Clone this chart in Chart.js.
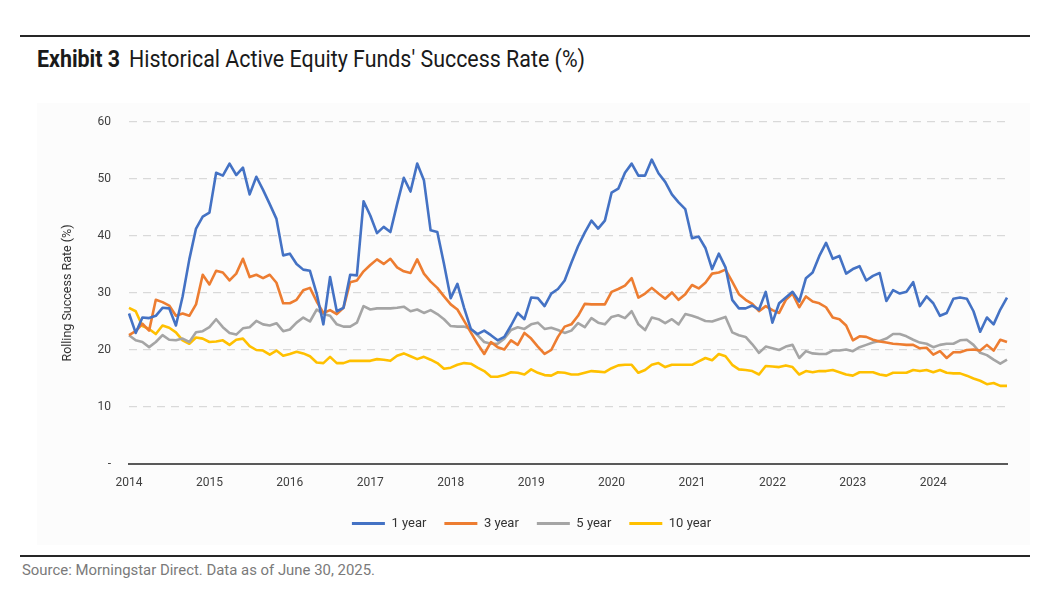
<!DOCTYPE html>
<html>
<head>
<meta charset="utf-8">
<script src="https://cdn.jsdelivr.net/npm/chart.js@4.4.1/dist/chart.umd.min.js"></script>
<style>
  body { margin: 0; background: #fff; font-family: Roboto, "Noto Sans", sans-serif; }
  #page { position: relative; width: 1048px; height: 589px; overflow: hidden; }
  .rule { position: absolute; left: 20px; width: 1010px; height: 2px; background: #262626; }
  #title { position: absolute; left: 37px; top: 45px; font-size: 24px; color: #1a1a1a; white-space: nowrap; transform-origin: 0 0; }
  #title b { margin-right: 4px; }
  #shade { position: absolute; left: 37px; top: 103px; width: 993px; height: 442px; background: #fcfcfc; }
  #box { position: absolute; left: 20px; top: 95px; width: 1010px; height: 450px; }
  #source { position: absolute; left: 22px; top: 561px; font-size: 15px; color: #7a7a7a; white-space: nowrap; transform-origin: 0 0; }
</style>
</head>
<body>
<div id="page">
  <div class="rule" style="top: 35px;"></div>
  <div id="title"><b>Exhibit 3</b> Historical Active Equity Funds' Success Rate (%)</div>
  <div id="shade"></div>
  <div id="box"><canvas id="chart"></canvas></div>
  <div class="rule" style="top: 555px; height: 1.5px;"></div>
  <div id="source">Source: Morningstar Direct. Data as of June 30, 2025.</div>
</div>
<script>
// monthly data, Jan 2014 .. Dec 2024
const startYear = 2014;
const yearLabels = ["2014", "2015", "2016", "2017", "2018", "2019", "2020", "2021", "2022", "2023", "2024"];
const seriesNames = ["1 year", "3 year", "5 year", "10 year"];

const oneYear = [
  26.4, 23, 25.7, 25.6, 26, 27.4, 27.3, 24.3, 29.4, 35.9, 41.3, 43.4,
  44.1, 51.1, 50.6, 52.7, 50.7, 52, 47.3, 50.4, 48.1, 45.6, 43, 36.6,
  36.9, 35.1, 34.1, 33.9, 29.9, 24.5, 32.8, 26.8, 27.4, 33.2, 33.1, 46.1,
  43.6, 40.5, 41.6, 40.7, 45.6, 50.2, 47.8, 52.7, 49.8, 41, 40.7, 35.1,
  29.1, 31.6, 27.4, 23.7, 22.8, 23.4, 22.6, 21.7, 22.3, 24.3, 26.5, 25.4,
  29.2, 29.1, 27.7, 29.9, 30.7, 32.2, 35.3, 38.2, 40.6, 42.7, 41.3, 42.7,
  47.6, 48.3, 51.1, 52.7, 50.6, 50.6, 53.4, 51, 49.5, 47.3, 45.9, 44.7,
  39.6, 39.9, 37.9, 34.2, 36.9, 34.5, 28.8, 27.3, 27.3, 27.8, 27.1, 30.2,
  24.8, 28.2, 29.2, 30.2, 28.5, 32.6, 33.6, 36.5, 38.8, 36, 36.5, 33.4,
  34.2, 34.7, 32.2, 33, 33.5, 28.6, 30.5, 29.9, 30.2, 31.9, 27.7, 29.4,
  28.2, 26, 26.5, 29, 29.2, 29, 26.8, 23.2, 25.7, 24.5, 27.1, 29.2
];

const threeYear = [
  22.6, 23.3, 24.6, 23.4, 28.8, 28.4, 27.8, 26, 26.4, 26, 28, 33.2,
  31.5, 33.9, 33.6, 32.2, 33.4, 36, 32.8, 33.2, 32.6, 33.2, 31.8, 28.2,
  28.2, 28.8, 30.5, 30.9, 28.5, 26.5, 27, 26.3, 27.4, 31.9, 32.2, 33.8,
  34.9, 35.9, 35.1, 36, 34.5, 33.8, 33.5, 35.9, 33.4, 32, 30.9, 29.4,
  28, 27.1, 25.1, 23.1, 21.1, 19.3, 21.4, 20.5, 20.1, 21.7, 20.9, 23,
  22, 20.6, 19.3, 20, 22.3, 24.1, 24.5, 26, 28.1, 28, 28, 28,
  30.2, 30.7, 31.3, 32.6, 29.2, 29.9, 30.9, 29.9, 29, 30.1, 28.8, 29.8,
  31.4, 30.8, 31.8, 33.4, 33.6, 34.1, 32, 29.8, 28.8, 28.1, 26.8, 27.7,
  27, 26.5, 28.8, 29.9, 27.5, 29.4, 28.5, 28.2, 27.5, 25.7, 25.4, 24.3,
  21.7, 22.4, 22.3, 21.8, 21.5, 21.3, 21.1, 21, 20.9, 20.9, 20.3, 20.4,
  19.2, 19.8, 18.6, 19.6, 19.6, 20, 20.1, 19.9, 20.9, 19.9, 21.8, 21.4
];

const fiveYear = [
  22.6, 21.7, 21.4, 20.5, 21.4, 22.6, 21.8, 21.7, 22, 21.4, 23.1, 23.3,
  24, 25.4, 24, 23, 22.7, 23.8, 24, 25.1, 24.5, 24.3, 24.7, 23.3,
  23.6, 24.8, 25.7, 25, 27.1, 26.3, 26, 24.5, 24.1, 24.1, 24.8, 27.7,
  27.1, 27.3, 27.3, 27.3, 27.4, 27.6, 26.8, 27.1, 26.5, 27, 26.3, 25.4,
  24.2, 24.1, 24.1, 23.7, 22.6, 21.4, 21.1, 21.1, 22, 23.5, 24, 23.7,
  24.5, 24.8, 23.7, 23.9, 23.5, 23, 23.4, 24.7, 24, 25.6, 24.8, 24.5,
  25.8, 26.1, 25.6, 26.8, 24.5, 23.5, 25.7, 25.4, 24.7, 25.4, 24.5, 26.3,
  26, 25.6, 25.1, 25, 25.4, 25.8, 23.1, 22.6, 22.3, 21, 19.5, 20.6,
  20.3, 20, 20.6, 20.9, 18.6, 19.8, 19.4, 19.3, 19.3, 19.9, 19.9, 20.1,
  19.8, 20.5, 20.9, 21.3, 21.6, 22, 22.8, 22.8, 22.4, 21.8, 21.3, 21.1,
  20.5, 20.9, 21.1, 21.1, 21.7, 21.8, 20.9, 19.5, 19.1, 18.3, 17.6, 18.3
];

const tenYear = [
  27.4, 26.8, 24.2, 23.7, 22.8, 24.3, 23.9, 23.1, 21.7, 21.1, 22.2, 22,
  21.4, 21.5, 21.7, 20.9, 21.8, 22, 20.7, 20, 19.9, 19.2, 19.9, 19,
  19.3, 19.7, 19.4, 18.9, 17.8, 17.7, 18.8, 17.7, 17.7, 18.1, 18.1, 18.1,
  18.1, 18.4, 18.3, 18.1, 19, 19.4, 18.9, 18.4, 18.8, 18.3, 17.7, 16.7,
  16.9, 17.4, 17.7, 17.6, 16.9, 16.3, 15.3, 15.3, 15.6, 16.1, 16, 15.7,
  16.6, 16, 15.6, 15.5, 16.1, 16, 15.7, 15.7, 16, 16.3, 16.2, 16.1,
  16.8, 17.3, 17.4, 17.4, 16, 16.5, 17.4, 17.7, 17, 17.4, 17.4, 17.4,
  17.4, 18, 18.6, 18.2, 19.3, 18.9, 17.4, 16.6, 16.5, 16.3, 15.7, 17.2,
  17.1, 17, 17.3, 17, 15.7, 16.3, 16.1, 16.3, 16.3, 16.5, 16.1, 15.7,
  15.5, 16.1, 16.1, 16.1, 15.7, 15.5, 16, 16, 16, 16.5, 16.3, 16.5,
  16.1, 16.5, 16, 15.9, 15.9, 15.5, 15, 14.6, 14, 14.2, 13.7, 13.7
];

const colors = ["#4472C4", "#ED7D31", "#A5A5A5", "#FFC000"];

const months = [];
for (let i = 0; i < oneYear.length; i++) {
  const y = startYear + Math.floor(i / 12);
  const m = String((i % 12) + 1).padStart(2, "0");
  months.push(`${y}-${m}`);
}

// no condensed face installed: squeeze the header texts to the reference widths
function fitWidth(id, target) {
  const el = document.getElementById(id);
  const w = el.getBoundingClientRect().width;
  if (w > 0) el.style.transform = `scaleX(${target / w})`;
}
fitWidth("title", 548);
fitWidth("source", 353);

const fontFamily = 'Roboto, "Noto Sans", sans-serif';

function makeDataset(label, data, color) {
  return {
    label,
    data,
    borderColor: color,
    backgroundColor: color,
    borderWidth: 2.6,
    pointRadius: 0,
    tension: 0,
    borderJoinStyle: "round",
  };
}

new Chart(document.getElementById("chart"), {
  type: "line",
  data: {
    labels: months,
    datasets: [
      makeDataset(seriesNames[0], oneYear, colors[0]),
      makeDataset(seriesNames[1], threeYear, colors[1]),
      makeDataset(seriesNames[2], fiveYear, colors[2]),
      makeDataset(seriesNames[3], tenYear, colors[3]),
    ],
  },
  options: {
    responsive: true,
    maintainAspectRatio: false,
    animation: false,
    layout: {
      padding: { left: 36, right: 23, top: 27, bottom: 5 },
    },
    plugins: {
      tooltip: { enabled: false },
      legend: {
        position: "bottom",
        labels: {
          boxWidth: 33,
          boxHeight: 3,
          padding: 18,
          color: "#333333",
          font: { family: fontFamily, size: 13 },
          generateLabels(chart) {
            return Chart.defaults.plugins.legend.labels.generateLabels(chart).map(l => ({ ...l, lineWidth: 0 }));
          },
        },
      },
    },
    scales: {
      x: {
        type: "category",
        offset: false,
        grid: { display: false, drawTicks: false },
        border: { display: true, color: "#595959", width: 2 },
        ticks: {
          autoSkip: false,
          maxRotation: 0,
          padding: 12,
          color: "#404040",
          font: { family: fontFamily, size: 12 },
          callback: (val, idx) => (idx % 12 === 0 ? yearLabels[idx / 12] : null),
        },
        afterFit(scale) {
          scale.height = 35;
        },
      },
      y: {
        min: 0,
        max: 60,
        grid: { color: "#d9d9d9", lineWidth: 1.3, drawTicks: false },
        border: { display: false, dash: [8, 6] },
        ticks: {
          stepSize: 10,
          padding: 18,
          color: "#404040",
          font: { family: fontFamily, size: 12 },
          callback: v => (v === 0 ? "-" : v),
        },
        title: {
          display: true,
          text: "Rolling Success Rate (%)",
          color: "#333333",
          font: { family: fontFamily, size: 12.5 },
        },
        afterFit(scale) {
          scale.width = 73;
        },
      },
    },
  },
});
</script>
</body>
</html>
